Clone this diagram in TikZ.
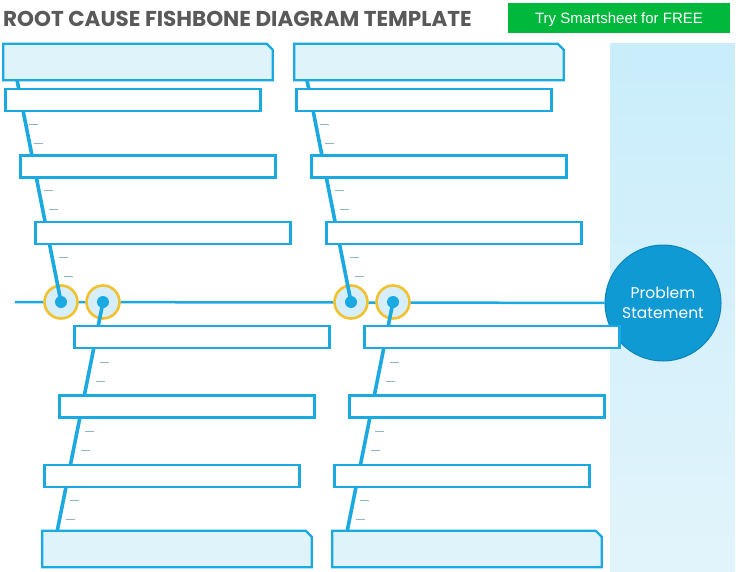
\documentclass[tikz,border=0pt]{standalone}
\usepackage{fontspec}
\usetikzlibrary{positioning}
\newfontfamily\gothic{Poppins}
\newfontfamily\arialish{Liberation Sans}
\definecolor{bonecol}{RGB}{26,169,225}
\definecolor{headfill}{RGB}{223,243,251}
\definecolor{ringcol}{RGB}{242,193,46}
\definecolor{jointfill}{RGB}{213,238,249}
\definecolor{probcol}{RGB}{15,154,211}
\definecolor{probedge}{RGB}{12,132,185}
\definecolor{tickcol}{RGB}{141,182,201}
\definecolor{titlegray}{RGB}{89,89,89}
\definecolor{btngreen}{RGB}{0,184,60}
\definecolor{bandtop}{RGB}{201,237,251}
\definecolor{bandbot}{RGB}{226,244,251}

\begin{document}
\begin{tikzpicture}[x=1pt,y=-1pt,
    cause box/.style={rectangle,draw=bonecol,line width=2.3pt,fill=white,minimum width=255pt,minimum height=22pt,inner sep=0pt},
    head box/.style={rectangle,minimum width=269pt,minimum height=36pt,inner sep=0pt},
    head line/.style={draw=bonecol,line width=2.3pt,fill=headfill},
    joint node/.style={circle,draw=ringcol,line width=2.6pt,fill=jointfill,minimum size=33pt,inner sep=0pt},
    dot node/.style={circle,fill=bonecol,minimum size=12pt,inner sep=0pt},
    problem node/.style={circle,draw=probedge,line width=1pt,fill=probcol,minimum size=116pt,text=white,align=center,font=\gothic\fontsize{15.5}{19.5}\selectfont},
    bone/.style={draw=bonecol,line width=3.6pt},
    spine/.style={draw=bonecol,line width=2.5pt},
    tick mark/.style={draw=tickcol,line width=1.2pt}]

    \useasboundingbox (0,0) rectangle (738,572);
    \shade[top color=bandtop,bottom color=bandbot] (610,44) rectangle (735,572);

    \node[anchor=west,inner sep=0pt,text depth=0pt,text=titlegray,font=\gothic\bfseries\fontsize{21.5}{24}\selectfont] (title) at (3,18.5) {ROOT CAUSE FISHBONE DIAGRAM TEMPLATE};
    \node[fill=btngreen,minimum width=222pt,minimum height=30pt,inner sep=0pt,text depth=0pt,text=white,font=\arialish\fontsize{15}{17}\selectfont] (try) at (619,18) {Try Smartsheet for FREE};

    \node[problem node] (prob) at (663,303) {Problem\\Statement};
    \coordinate (sL) at (15,302);
    \path[spine] (sL) edge (prob);

    \node[joint node] (jA) at (61,302) {};
    \node[joint node] (jC) at (103,302) {};
    \node[joint node] (jB) at (351,302) {};
    \node[joint node] (jD) at (393,302) {};

    \coordinate (tA) at (17,80);
    \coordinate (tB) at (307,80);
    \coordinate (tC) at (57,532);
    \coordinate (tD) at (347,532);

    \path[bone]
        (jA.center) edge (tA)
        (jB.center) edge (tB)
        (jC.center) edge (tC)
        (jD.center) edge (tD)
    ;
    \foreach \j in {jA,jB,jC,jD}
        \node[dot node] at (\j) {};

    \node[head box] (hA) at (138,62) {};
    \node[head box] (hB) at (429,62) {};
    \node[head box] (hC) at (177,549) {};
    \node[head box] (hD) at (467,549) {};
    \foreach \h in {hA,hB,hC,hD}
        \path[head line] (\h.south west) -- (\h.north west) -- ([xshift=-6pt]\h.north east)
            -- ([yshift=-6pt]\h.north east) -- (\h.south east) -- cycle;

    \node[cause box] (a1) [below right=8pt and 1pt of hA.south west] {};
    \node[cause box] (a2) [below right=42pt and 15pt of a1.south west] {};
    \node[cause box] (a3) [below right=42pt and 15pt of a2.south west] {};
    \node[cause box] (b1) [below right=8pt and 1pt of hB.south west] {};
    \node[cause box] (b2) [below right=42pt and 15pt of b1.south west] {};
    \node[cause box] (b3) [below right=42pt and 15pt of b2.south west] {};

    \node[cause box] (c3) [above right=43pt and 1pt of hC.north west] {};
    \node[cause box] (c2) [above right=45pt and 15pt of c3.north west] {};
    \node[cause box] (c1) [above right=45pt and 15pt of c2.north west] {};
    \node[cause box] (d3) [above right=43pt and 1pt of hD.north west] {};
    \node[cause box] (d2) [above right=45pt and 15pt of d3.north west] {};
    \node[cause box] (d1) [above right=45pt and 15pt of d2.north west] {};

    \foreach \b in {a1,a2,a3,b1,b2,b3} {
        \draw[tick mark] ([shift={(25pt,-12pt)}]\b.south west) -- ++(9,0);
        \draw[tick mark] ([shift={(30pt,-31pt)}]\b.south west) -- ++(9,0);
    }
    \foreach \b in {c1,c2,c3,d1,d2,d3} {
        \draw[tick mark] ([shift={(27pt,-13pt)}]\b.south west) -- ++(9,0);
        \draw[tick mark] ([shift={(23pt,-32pt)}]\b.south west) -- ++(9,0);
    }
\end{tikzpicture}
\end{document}
